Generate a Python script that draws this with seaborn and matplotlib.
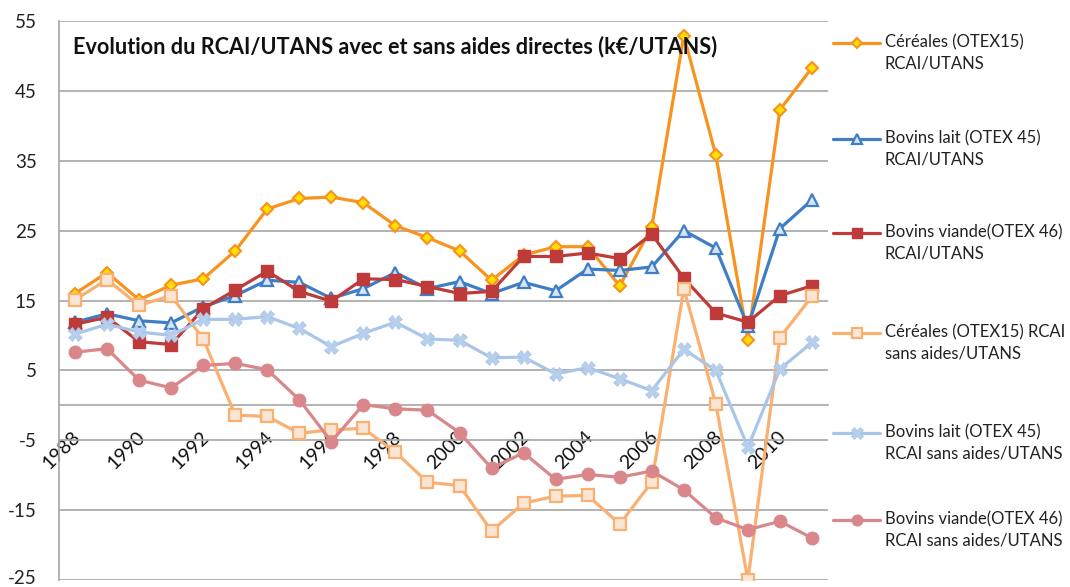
import matplotlib
matplotlib.use("Agg")
import matplotlib.pyplot as plt
from matplotlib.lines import Line2D
import matplotlib.transforms as mtransforms
import seaborn as sns
import numpy as np
import pandas as pd

years = list(range(1988, 2012))

cereales = [16.0, 19.0, 15.1, 17.2, 18.1, 22.1, 28.1, 29.6, 29.8, 29.0, 25.7, 24.0,
            22.1, 17.9, 21.5, 22.7, 22.7, 17.1, 25.5, 52.9, 35.8, 9.4, 42.3, 48.3]
lait = [11.9, 13.1, 12.1, 11.8, 14.1, 15.7, 17.9, 17.6, 15.3, 16.7, 19.0, 16.7,
        17.7, 16.0, 17.6, 16.4, 19.5, 19.3, 19.8, 25.0, 22.5, 11.3, 25.3, 29.4]
viande = [11.6, 12.6, 9.1, 8.7, 13.8, 16.5, 19.2, 16.3, 14.9, 18.1, 18.0, 17.0,
          16.0, 16.3, 21.3, 21.3, 21.8, 21.0, 24.5, 18.2, 13.2, 11.9, 15.7, 17.1]
cereales_sa = [15.1, 18.0, 14.3, 15.7, 9.5, -1.4, -1.6, -4.0, -3.5, -3.3, -6.7, -11.0,
               -11.5, -18.0, -14.0, -13.0, -12.9, -17.0, -11.0, 16.7, 0.2, -25.0, 9.7, 15.6]
lait_sa = [10.2, 11.6, 10.5, 10.0, 12.3, 12.3, 12.7, 11.0, 8.4, 10.3, 11.9, 9.5,
           9.3, 6.8, 6.9, 4.5, 5.4, 3.8, 2.1, 8.0, 5.0, -6.0, 5.2, 9.0]
viande_sa = [7.6, 8.1, 3.6, 2.5, 5.7, 6.0, 5.1, 0.8, -5.2, 0.1, -0.5, -0.7,
             -3.9, -9.0, -6.8, -10.6, -9.9, -10.3, -9.4, -12.1, -16.1, -17.8, -16.6, -19.0]

labels = ["Céréales (OTEX15)\nRCAI/UTANS",
          "Bovins lait (OTEX 45)\nRCAI/UTANS",
          "Bovins viande(OTEX 46)\nRCAI/UTANS",
          "Céréales (OTEX15) RCAI\nsans aides/UTANS",
          "Bovins lait (OTEX 45)\nRCAI sans aides/UTANS",
          "Bovins viande(OTEX 46)\nRCAI sans aides/UTANS"]
series = [cereales, lait, viande, cereales_sa, lait_sa, viande_sa]
yticks = [-25, -15, -5, 5, 15, 25, 35, 45, 55]
title = "Evolution du RCAI/UTANS avec et sans aides directes (k€/UTANS)"

styles = [
    dict(color="#F7931E", marker="D", markersize=6.5, markerfacecolor="#FFE000", markeredgecolor="#F7931E", markeredgewidth=1.5),
    dict(color="#3F7EC4", marker="^", markersize=8.5, markerfacecolor="#D6E4F4", markeredgecolor="#3F7EC4", markeredgewidth=1.6),
    dict(color="#BE3B3A", marker="s", markersize=9, markerfacecolor="#BE3B3A", markeredgecolor="#BE3B3A", markeredgewidth=1),
    dict(color="#F9B070", marker="s", markersize=8, markerfacecolor="#FBE6D6", markeredgecolor="#F9B070", markeredgewidth=1.6),
    dict(color="#A9C6E8", marker="X", markersize=9.5, markerfacecolor="#B7CFEA", markeredgecolor="#A9C6E8", markeredgewidth=0.5),
    dict(color="#D9878A", marker="o", markersize=9, markerfacecolor="#D9878A", markeredgecolor="#D9878A", markeredgewidth=1),
]

sns.set_theme(style="white")
plt.rcParams["font.family"] = ["Lato", "DejaVu Sans"]

fig = plt.figure(figsize=(10.70, 5.87), dpi=100)
ax = fig.add_axes([59 / 1070, 1 - 580 / 587, (828 - 59) / 1070, (580 - 21) / 587])

pos = np.arange(len(years))
for vals, st in zip(series, styles):
    df = pd.DataFrame({"pos": pos, "val": vals})
    sns.lineplot(data=df, x="pos", y="val", ax=ax, linewidth=2.3, legend=False, zorder=3, **st)

ax.set_xlim(-0.5, len(years) - 0.5)
ax.set_ylim(-25, 55)
ax.set_yticks(yticks)
ax.set_yticklabels([str(v) for v in yticks], fontsize=13.5, color="#222222")
ax.tick_params(axis="y", length=0, pad=16)
ax.grid(axis="y", color="#A6A6A6", linewidth=1.2)
ax.set_xlabel("")
ax.set_ylabel("")
# keep the lowest label inside the canvas
lowest = ax.get_yticklabels()[0]
lowest.set_transform(lowest.get_transform() + mtransforms.ScaledTranslation(0, 3 / 100, fig.dpi_scale_trans))

ax.spines["top"].set_visible(False)
ax.spines["right"].set_visible(False)
ax.spines["left"].set_color("#A6A6A6")
ax.spines["left"].set_linewidth(1.2)
ax.spines["bottom"].set_position(("data", 0))
ax.spines["bottom"].set_color("#A6A6A6")
ax.spines["bottom"].set_linewidth(1.2)

ax.set_xticks(pos[::2])
ax.set_xticklabels([str(y) for y in years[::2]], rotation=45, ha="right", va="center",
                   rotation_mode="anchor", fontsize=14, color="#111111")
ax.tick_params(axis="x", length=0, pad=21)
shift = mtransforms.ScaledTranslation(3 / 100, 0, fig.dpi_scale_trans)
for lab in ax.get_xticklabels():
    lab.set_transform(lab.get_transform() + shift)
ax.set_xticks(np.arange(len(years) + 1) - 0.5, minor=True)
ax.tick_params(axis="x", which="minor", length=6, width=1.2, color="#A6A6A6", direction="out")

ax.text(0.018, 0.955, title, transform=ax.transAxes, fontsize=15.6, fontweight="bold",
        color="#111111", ha="left", va="center", zorder=5)

# legend (manual, handle aligned with first text line)
legend_y = [43, 139, 233, 333, 433, 520]
for yp, lab, st in zip(legend_y, labels, styles):
    yy = 1 - yp / 587
    fig.add_artist(Line2D([833 / 1070, 880 / 1070], [yy, yy], transform=fig.transFigure,
                          color=st["color"], linewidth=2.3))
    mst = {k: v for k, v in st.items() if k != "color"}
    mst["markersize"] = st["markersize"] * 0.85
    fig.add_artist(Line2D([856.5 / 1070], [yy], transform=fig.transFigure, linestyle="none", **mst))
    fig.text(885 / 1070, yy + 9 / 587, lab, fontsize=12, color="#222222", ha="left", va="top",
             linespacing=1.45)

fig.savefig("out.png", dpi=100)
